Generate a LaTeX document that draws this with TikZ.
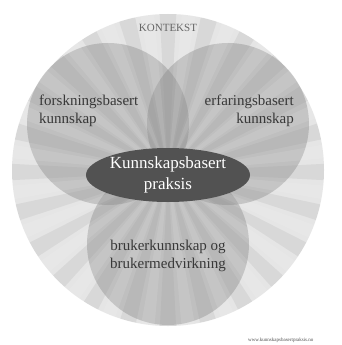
\documentclass[tikz,border=0pt]{standalone}
\usepackage{fontspec}
\setmainfont{Liberation Serif}
\begin{document}
\begin{tikzpicture}[x=1pt,y=-1pt,
  lbl/.style={font=\fontsize{15}{18}\selectfont, text=black!78, align=left, inner sep=0pt},
  petal/.style={fill=black!45, fill opacity=0.42, draw=none}]
\useasboundingbox (0,0) rectangle (342,345);
\fill[white] (0,0) rectangle (342,345);
\coordinate (c) at (168,172);
% big context circle
\fill[black!10] (168,170) circle (156);
\begin{scope}
\clip (168,170) circle (156);
\foreach \a in {0,15,...,345}{
  \fill[black, opacity=0.055] (c) -- ++(\a-3:230) -- ++(\a+93:24) -- cycle;
}
\end{scope}
% three circles
\fill[petal] (108,124) circle (81);
\fill[petal] (228,124) circle (81);
\fill[petal] (168,244) circle (81);
\begin{scope}
\clip (168,170) circle (156);
\foreach \a in {7.5,22.5,...,352.5}{
  \fill[white, opacity=0.10] (c) -- ++(\a-2.5:230) -- ++(\a+92.5:20) -- cycle;
}
\end{scope}
% central ellipse
\fill[black!68] (168,175) ellipse (82 and 27);
\node[font=\fontsize{11}{13}\selectfont, text=black!60] (kontekst) at (168,28) {KONTEKST};
\node[lbl, anchor=north west] (fors) at (39,95) {forskningsbasert\\kunnskap};
\node[lbl, align=right, anchor=north east] (erf) at (294,95) {erfaringsbasert\\kunnskap};
\node[lbl, align=center] (bruk) at (168,256) {brukerkunnskap og\\brukermedvirkning};
\node[font=\fontsize{17}{21}\selectfont, text=white, align=center, inner sep=0pt] (kbp) at (168,175) {Kunnskapsbasert\\praksis};
\node[font=\fontsize{5}{6}\selectfont, text=black!70, anchor=west, inner sep=0pt] (www) at (248,340) {www.kunnskapsbasertpraksis.no};
\end{tikzpicture}
\end{document}
